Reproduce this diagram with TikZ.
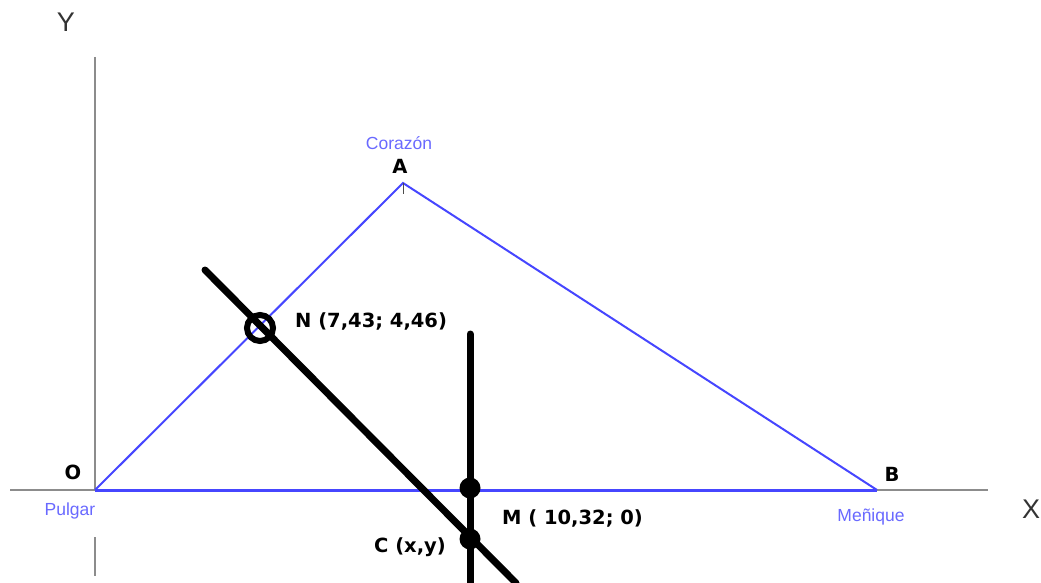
\documentclass[tikz,border=0pt]{standalone}
\usepackage{fontspec}
\setmainfont{Liberation Sans}
\newfontfamily\lblfont{DejaVu Sans}
\definecolor{axisgray}{RGB}{140,140,140}
\definecolor{triblue}{RGB}{70,70,255}
\definecolor{txtblue}{RGB}{105,105,255}
\tikzset{
  axisline/.style={draw=axisgray, line width=2pt},
  sideline/.style={draw=triblue, line width=2pt},
  baseline blue/.style={draw=triblue, line width=3pt},
  thickline/.style={draw=black, line width=7pt, line cap=round},
  dotpt/.style={circle, fill=black, inner sep=0pt, minimum size=21pt},
  ringpt/.style={circle, draw=black, line width=6pt, inner sep=0pt, minimum size=26pt},
  ptlabel/.style={font=\lblfont\bfseries\fontsize{19.5}{22}\selectfont, text=black, inner sep=0pt},
  bluelabel/.style={font=\fontsize{17.5}{20}\selectfont, text=txtblue, inner sep=0pt},
  axislabel/.style={font=\fontsize{27}{30}\selectfont, text=black!80, inner sep=0pt}
}
\begin{document}
\begin{tikzpicture}[x=1pt,y=-1pt]
\useasboundingbox (0,0) rectangle (1041,583);
% key points
\coordinate (O) at (95,490);
\coordinate (A) at (403,183);
\coordinate (B) at (877,490);
\coordinate (Yt) at (95,57);
\coordinate (Yb1) at (95,537);
\coordinate (Yb2) at (95,576);
\coordinate (Xl) at (10,490);
\coordinate (Xr) at (988,490);
\coordinate (L1s) at (205,270);
\coordinate (L1e) at (516,583);
\coordinate (L2s) at (470,334);
\coordinate (L2e) at (470,583);
\coordinate (Atick) at (403,194);
% axes
\draw[axisline] (Yt) -- (O);
\draw[axisline] (Yb1) -- (Yb2);
\draw[axisline] (Xl) -- (Xr);
% triangle
\draw[sideline] (O) -- (A) -- (B);
\draw[baseline blue] (O) -- (B);
\draw[draw=black!70, line width=0.8pt] (A) -- (Atick);
% black lines
\draw[thickline] (L1s) -- (L1e);
\draw[thickline] (L2s) -- (L2e);
% points
\node[ringpt] (N) at (260,328) {};
\node[dotpt] (M) at (470,488) {};
\node[dotpt] (C) at (470,539) {};
% labels
\node[axislabel] (ylab) at (66,22) {Y};
\node[axislabel] (xlab) at (1031,509) {X};
\node[bluelabel] (cor) at (399,143) {Corazón};
\node[ptlabel] (alab) at (400,166) {A};
\node[ptlabel] (olab) at (73,472) {O};
\node[bluelabel] (pul) at (70,511) {Pulgar};
\node[ptlabel] (blab) at (892,474) {B};
\node[bluelabel] (men) at (871,517) {Meñique};
\node[ptlabel, anchor=west] (nlab) at (295,321) {N (7,43; 4,46)};
\node[ptlabel, anchor=west] (mlab) at (502,518) {M ( 10,32; 0)};
\node[ptlabel, anchor=east] (clab) at (446,547) {C (x,y)};
\end{tikzpicture}
\end{document}
